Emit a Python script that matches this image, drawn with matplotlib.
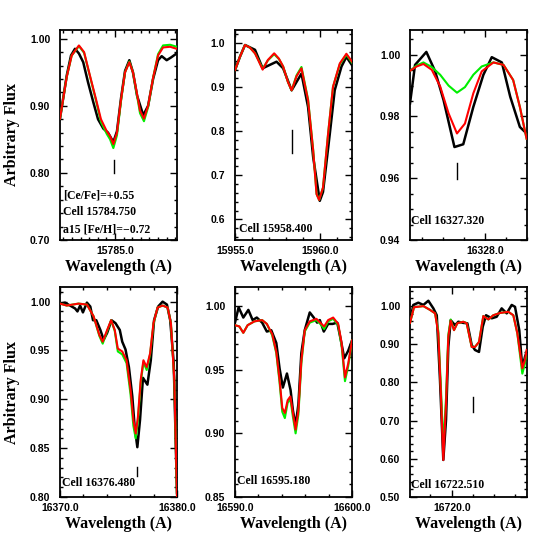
import numpy as np
import matplotlib
matplotlib.use('Agg')
import matplotlib.pyplot as plt
from matplotlib.ticker import FixedLocator, MultipleLocator, FormatStrFormatter

# ---- panel 1 : Ce II 15784.750 ----
p1_wl_mod = [15781.80, 15782.19, 15782.48, 15782.90, 15783.20, 15783.54, 15783.89, 15784.18,
             15784.52, 15784.71, 15784.90, 15785.11, 15785.35, 15785.58, 15785.83, 15786.04,
             15786.26, 15786.45, 15786.68, 15786.92, 15787.22, 15787.50, 15787.79, 15788.20, 15788.58]
p1_red = [0.881, 0.943, 0.975, 0.990, 0.980, 0.945, 0.910, 0.880, 0.862, 0.855, 0.843, 0.860, 0.910,
          0.950, 0.965, 0.950, 0.920, 0.893, 0.881, 0.900, 0.943, 0.975, 0.987, 0.988, 0.985]
p1_green = [0.881, 0.943, 0.975, 0.989, 0.979, 0.944, 0.908, 0.876, 0.858, 0.850, 0.837, 0.856, 0.908,
            0.950, 0.966, 0.950, 0.918, 0.889, 0.877, 0.898, 0.943, 0.977, 0.990, 0.991, 0.988]
p1_wl_obs = [15781.80, 15782.19, 15782.44, 15782.67, 15782.90, 15783.15, 15783.43, 15783.74, 15784.01,
             15784.32, 15784.59, 15784.90, 15785.11, 15785.35, 15785.58, 15785.83, 15786.04, 15786.28,
             15786.64, 15786.92, 15787.21, 15787.50, 15787.71, 15788.00, 15788.25, 15788.58]
p1_obs = [0.881, 0.945, 0.975, 0.985, 0.978, 0.965, 0.935, 0.905, 0.880, 0.866, 0.860, 0.846, 0.862,
          0.912, 0.952, 0.968, 0.950, 0.915, 0.886, 0.900, 0.940, 0.968, 0.974, 0.968, 0.972, 0.978]

# ---- panel 2 : Ce II 15958.400 ----
p2_wl_mod = [15955.00, 15955.29, 15955.59, 15955.88, 15956.18, 15956.39, 15956.63, 15956.94, 15957.31,
             15957.59, 15957.84, 15958.12, 15958.34, 15958.63, 15958.92, 15959.31, 15959.61, 15959.81,
             15959.96, 15960.19, 15960.49, 15960.78, 15961.18, 15961.57, 15961.90]
p2_red = [0.939, 0.969, 0.996, 0.990, 0.977, 0.960, 0.940, 0.962, 0.977, 0.965, 0.947, 0.912, 0.893,
          0.925, 0.943, 0.870, 0.756, 0.657, 0.644, 0.672, 0.794, 0.901, 0.954, 0.976, 0.958]
p2_green = [0.939, 0.969, 0.996, 0.990, 0.977, 0.961, 0.942, 0.961, 0.975, 0.964, 0.947, 0.912, 0.893,
            0.927, 0.946, 0.872, 0.758, 0.658, 0.644, 0.672, 0.794, 0.901, 0.952, 0.974, 0.956]
p2_wl_obs = [15955.00, 15955.29, 15955.59, 15956.18, 15956.63, 15957.45, 15957.84, 15958.34, 15958.92,
             15959.31, 15959.61, 15960.00, 15960.19, 15960.59, 15960.88, 15961.28, 15961.57, 15961.90]
p2_obs = [0.939, 0.969, 0.996, 0.985, 0.943, 0.958, 0.943, 0.893, 0.931, 0.855, 0.741, 0.642, 0.662,
          0.794, 0.893, 0.947, 0.969, 0.950]

# ---- panel 3 : Ce II 16327.320 ----
p3_wl_mod = [16326.21, 16326.37, 16326.53, 16326.73, 16326.93, 16327.13, 16327.33, 16327.52,
             16327.72, 16327.92, 16328.20, 16328.44, 16328.67, 16328.83, 16328.99]
p3_red = [0.9948, 0.9962, 0.9970, 0.9951, 0.9897, 0.9810, 0.9745, 0.9777, 0.9875, 0.9946, 0.9975,
          0.9967, 0.9918, 0.9831, 0.9728]
p3_green = [0.9948, 0.9965, 0.9975, 0.9960, 0.9935, 0.9900, 0.9877, 0.9895, 0.9935, 0.9962, 0.9975,
            0.9967, 0.9918, 0.9831, 0.9728]
p3_wl_obs = [16326.21, 16326.33, 16326.60, 16326.81, 16327.01, 16327.27, 16327.48, 16327.72,
             16327.96, 16328.16, 16328.40, 16328.60, 16328.83, 16328.99]
p3_obs = [0.9842, 0.9967, 1.0009, 0.9946, 0.9853, 0.9701, 0.9710, 0.9831, 0.9935, 0.9992, 0.9975,
          0.9864, 0.9766, 0.9745]

# ---- panel 4 : Ce II 16376.480 ----
p4_wl_mod = [16370.00, 16370.58, 16371.58, 16372.30, 16372.87, 16373.36, 16373.65, 16374.03, 16374.37,
             16374.68, 16374.94, 16375.32, 16375.69, 16376.03, 16376.27, 16376.47, 16376.66, 16376.90,
             16377.13, 16377.41, 16377.70, 16377.99, 16378.34, 16378.77, 16379.20, 16379.48, 16379.77,
             16380.00]
p4_red = [0.998, 0.996, 0.998, 0.997, 0.985, 0.966, 0.959, 0.971, 0.981, 0.971, 0.952, 0.949, 0.940,
          0.910, 0.879, 0.865, 0.882, 0.920, 0.940, 0.933, 0.947, 0.978, 0.994, 0.996, 0.994, 0.978,
          0.920, 0.800]
p4_green = [0.998, 0.996, 0.998, 0.997, 0.985, 0.965, 0.957, 0.970, 0.981, 0.970, 0.949, 0.946, 0.937,
            0.905, 0.873, 0.860, 0.878, 0.917, 0.938, 0.930, 0.946, 0.977, 0.994, 0.996, 0.994, 0.978,
            0.920, 0.800]
p4_wl_obs = [16370.00, 16370.43, 16370.86, 16371.29, 16371.49, 16371.72, 16371.96, 16372.30, 16372.59,
             16372.82, 16373.10, 16373.45, 16373.73, 16374.03, 16374.40, 16374.74, 16375.11, 16375.32,
             16375.60, 16375.89, 16376.18, 16376.38, 16376.61, 16376.84, 16377.09, 16377.47, 16377.76,
             16378.04, 16378.39, 16378.77, 16379.14, 16379.42, 16379.72, 16380.00]
p4_obs = [0.998, 0.999, 0.996, 0.993, 0.990, 0.996, 0.989, 0.999, 0.995, 0.981, 0.981, 0.971, 0.961,
          0.968, 0.981, 0.978, 0.971, 0.959, 0.951, 0.933, 0.903, 0.872, 0.851, 0.879, 0.922, 0.915,
          0.940, 0.981, 0.995, 1.000, 0.997, 0.981, 0.937, 0.804]

# ---- panel 5 : Ce II 16595.180 ----
p5_wl_mod = [16590.00, 16590.37, 16590.71, 16591.08, 16591.66, 16592.32, 16592.72, 16593.18, 16593.53,
             16593.81, 16594.04, 16594.26, 16594.50, 16594.73, 16594.95, 16595.18, 16595.42, 16595.67,
             16595.96, 16596.39, 16596.96, 16597.39, 16597.62, 16597.96, 16598.39, 16598.82, 16599.11,
             16599.40, 16599.68, 16600.00]
p5_red = [0.985, 0.984, 0.979, 0.985, 0.988, 0.989, 0.986, 0.978, 0.964, 0.942, 0.920, 0.916, 0.926,
          0.929, 0.916, 0.903, 0.918, 0.957, 0.981, 0.988, 0.990, 0.986, 0.984, 0.989, 0.991, 0.986,
          0.971, 0.944, 0.955, 0.973]
p5_green = [0.985, 0.984, 0.979, 0.985, 0.988, 0.989, 0.986, 0.977, 0.963, 0.940, 0.917, 0.912, 0.924,
            0.927, 0.913, 0.900, 0.915, 0.955, 0.980, 0.987, 0.989, 0.985, 0.982, 0.988, 0.990, 0.985,
            0.969, 0.941, 0.953, 0.973]
p5_wl_obs = [16590.00, 16590.31, 16590.71, 16591.14, 16591.51, 16591.86, 16592.32, 16592.72, 16593.10,
             16593.53, 16593.81, 16594.09, 16594.44, 16594.75, 16594.95, 16595.18, 16595.42, 16595.67,
             16595.96, 16596.39, 16596.73, 16597.02, 16597.25, 16597.59, 16597.96, 16598.34, 16598.74,
             16599.03, 16599.34, 16599.68, 16600.00]
p5_obs = [0.987, 0.999, 0.991, 0.997, 0.989, 0.991, 0.987, 0.980, 0.981, 0.971, 0.951, 0.936, 0.947,
          0.934, 0.918, 0.906, 0.923, 0.963, 0.981, 0.995, 0.991, 0.987, 0.989, 0.980, 0.986, 0.986,
          0.987, 0.974, 0.959, 0.965, 0.973]

# ---- panel 6 : Ce II 16722.510 ----
p6_wl_mod = [16715.09, 16715.56, 16716.66, 16717.45, 16718.04, 16718.42, 16718.74, 16719.01, 16719.33,
             16719.60, 16719.88, 16720.27, 16720.66, 16721.36, 16721.76, 16722.35, 16722.74, 16723.21,
             16723.72, 16724.31, 16724.89, 16725.68, 16726.66, 16727.25, 16727.72, 16728.31, 16728.62,
             16728.82]
p6_red = [0.956, 0.997, 1.000, 0.990, 0.981, 0.929, 0.763, 0.597, 0.745, 0.920, 0.962, 0.937, 0.955,
          0.959, 0.955, 0.893, 0.893, 0.906, 0.974, 0.965, 0.976, 0.982, 0.985, 0.976, 0.929, 0.837,
          0.859, 0.885]
p6_green = [0.956, 0.997, 1.000, 0.990, 0.981, 0.935, 0.780, 0.633, 0.760, 0.925, 0.965, 0.937, 0.955,
            0.959, 0.955, 0.893, 0.893, 0.906, 0.974, 0.965, 0.976, 0.982, 0.985, 0.976, 0.929, 0.823,
            0.850, 0.880]
p6_wl_obs = [16715.09, 16715.48, 16716.07, 16716.66, 16717.25, 16717.84, 16718.24, 16718.62, 16719.01,
             16719.33, 16719.60, 16719.88, 16720.39, 16720.78, 16721.36, 16721.84, 16722.35, 16722.74,
             16723.21, 16723.65, 16724.04, 16724.71, 16725.29, 16725.88, 16726.47, 16727.06, 16727.45,
             16727.95, 16728.31, 16728.62, 16728.82]
p6_obs = [0.959, 1.003, 1.009, 1.003, 1.014, 0.994, 0.976, 0.806, 0.597, 0.702, 0.893, 0.963, 0.950,
          0.959, 0.956, 0.955, 0.898, 0.885, 0.880, 0.946, 0.976, 0.968, 0.972, 0.994, 0.981, 1.003,
          0.998, 0.937, 0.837, 0.867, 0.880]

# line identifications, marker (wavelength, bottom, top) and labels
cell_labels = ['Cell 15784.750', 'Cell 15958.400', 'Cell 16327.320',
               'Cell 16376.480', 'Cell 16595.180', 'Cell 16722.510']
marker_wl = [15784.93, 15958.34, 16327.33, 16376.55, None, 16722.51]
marker_lo = [0.800, 0.750, 0.9598, 0.821, None, 0.723]
marker_hi = [0.819, 0.802, 0.9649, 0.831, None, 0.763]
extra_text = ['[Ce/Fe]=+0.55', 'a15 [Fe/H]=\u22120.72']

# axis ranges and ticks per panel
xlims = [(15781.8, 15788.6), (15955.0, 15961.9), (16326.21, 16329.0),
         (16370.0, 16380.0), (16590.0, 16600.0), (16715.09, 16728.86)]
ylims = [(0.70, 1.013), (0.553, 1.030), (0.94, 1.008),
         (0.80, 1.015), (0.85, 1.015), (0.50, 1.05)]
x_major = [[15785.0], [15955.0, 15960.0], [16328.0],
           [16370.0, 16380.0], [16590.0, 16600.0], [16720.0]]
x_minor = [0.5, 1.0, 0.5, 2.0, 2.0, 2.5]
y_major = [0.1, 0.1, 0.02, 0.05, 0.05, 0.1]
y_minor = [0.02, 0.02, 0.005, 0.01, 0.01, 0.02]
y_fmt = ['%.2f', '%.1f', '%.2f', '%.2f', '%.2f', '%.2f']
text_pos = [(0.026, 0.133), (0.034, 0.051), (0.006, 0.091),
            (0.017, 0.065), (0.014, 0.076), (0.009, 0.057)]

panels = [
    (p1_wl_obs, p1_obs, p1_wl_mod, p1_green, p1_red),
    (p2_wl_obs, p2_obs, p2_wl_mod, p2_green, p2_red),
    (p3_wl_obs, p3_obs, p3_wl_mod, p3_green, p3_red),
    (p4_wl_obs, p4_obs, p4_wl_mod, p4_green, p4_red),
    (p5_wl_obs, p5_obs, p5_wl_mod, p5_green, p5_red),
    (p6_wl_obs, p6_obs, p6_wl_mod, p6_green, p6_red),
]

serif = 'Liberation Serif'
tick_font = {'family': 'Liberation Sans', 'weight': 'bold', 'size': 7.5}

fig = plt.figure(figsize=(5.56, 5.56), dpi=100)
lefts = [60, 235, 410]
tops = [30, 287]
W, H = 556.0, 556.0

for k, (wo, fo, wm, fg, fr) in enumerate(panels):
    row, col = divmod(k, 3)
    ax = fig.add_axes([lefts[col] / W, 1 - (tops[row] + 210) / H, 117 / W, 210 / H])

    ax.plot(wo, fo, color='black', lw=1.8, zorder=2, solid_joinstyle='round')
    ax.plot(wm, fg, color='#00ee00', lw=1.5, zorder=3, solid_joinstyle='round')
    ax.plot(wm, fr, color='#ff0000', lw=1.5, zorder=4, solid_joinstyle='round')

    if marker_wl[k] is not None:
        ax.plot([marker_wl[k], marker_wl[k]], [marker_lo[k], marker_hi[k]], color='black', lw=1.0)

    ax.set_xlim(*xlims[k])
    ax.set_ylim(*ylims[k])

    ax.xaxis.set_major_locator(FixedLocator(x_major[k]))
    ax.xaxis.set_major_formatter(FormatStrFormatter('%.1f'))
    ax.xaxis.set_minor_locator(MultipleLocator(x_minor[k]))
    ax.yaxis.set_major_locator(MultipleLocator(y_major[k]))
    ax.yaxis.set_major_formatter(FormatStrFormatter(y_fmt[k]))
    ax.yaxis.set_minor_locator(MultipleLocator(y_minor[k]))

    ax.tick_params(which='both', direction='in', top=True, right=True, width=1.0)
    ax.tick_params(which='major', length=5)
    ax.tick_params(which='minor', length=2.5)
    ax.tick_params(axis='y', pad=7)
    ax.tick_params(axis='x', pad=4)
    for lab in ax.get_xticklabels() + ax.get_yticklabels():
        lab.set_fontfamily(tick_font['family'])
        lab.set_fontweight(tick_font['weight'])
        lab.set_fontsize(tick_font['size'])
    for sp in ax.spines.values():
        sp.set_linewidth(1.3)

    tx, ty = text_pos[k]
    ax.text(tx, ty, cell_labels[k], transform=ax.transAxes, fontsize=8.5,
            fontfamily=serif, fontweight='bold', va='center', ha='left')
    if k == 0:
        ax.text(tx, 0.214, extra_text[0], transform=ax.transAxes, fontsize=8.5,
                fontfamily=serif, fontweight='bold', va='center', ha='left')
        ax.text(tx, 0.048, extra_text[1], transform=ax.transAxes, fontsize=8.5,
                fontfamily=serif, fontweight='bold', va='center', ha='left')

    ax.text(0.5, -0.127, 'Wavelength (A)', transform=ax.transAxes, fontsize=11.5,
            fontfamily=serif, fontweight='bold', va='center', ha='center')
    if col == 0:
        ax.text(-0.41, 0.5, 'Arbitrary Flux', transform=ax.transAxes, fontsize=11.5,
                fontfamily=serif, fontweight='bold', va='center', ha='center', rotation=90)

fig.savefig('out.png', dpi=100)
